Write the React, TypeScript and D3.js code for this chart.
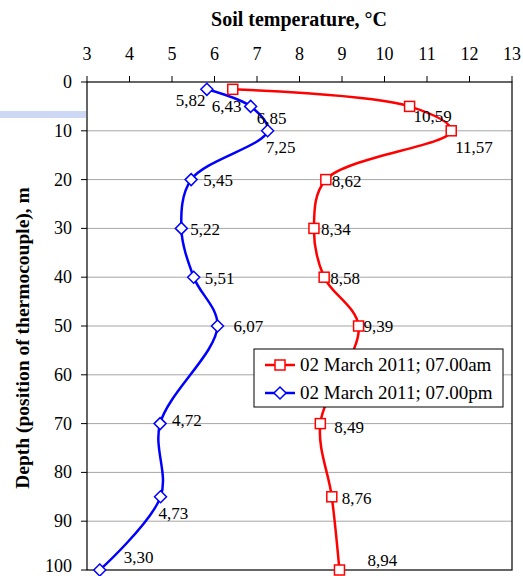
import * as d3 from "d3";

const depths = [1.5, 5, 10, 20, 30, 40, 50, 70, 85, 100];
const morning = [6.43, 10.59, 11.57, 8.62, 8.34, 8.58, 9.39, 8.49, 8.76, 8.94];
const evening = [5.82, 6.85, 7.25, 5.45, 5.22, 5.51, 6.07, 4.72, 4.73, 3.3];
const xTicks = [3, 4, 5, 6, 7, 8, 9, 10, 11, 12, 13];
const yTicks = [0, 10, 20, 30, 40, 50, 60, 70, 80, 90, 100];
const seriesNames = ["02 March 2011; 07.00am", "02 March 2011; 07.00pm"];

// label nudges (px) so the numbers sit where the original put them
const morningLabelOffsets = [[-21, 23], [4, 16], [4, 22], [6, 7], [7, 7], [6, 7], [5, 6], [14, 9], [10, 7], [28, -4]];
const eveningLabelOffsets = [[-31, 17], [6, 18], [-2, 22], [12, 6], [9, 7], [11, 7], [16, 6], [12, 2], [-2, 22], [24, -7]];

const W = 523;
const H = 576;
const M = { top: 82, right: 11, bottom: 6, left: 87 };
const FONT = "'Liberation Serif', 'Times New Roman', serif";

const fmt = (v: number) => v.toFixed(2).replace(".", ",");

export default function App() {
  const x = d3.scaleLinear().domain([3, 13]).range([M.left, W - M.right]);
  const y = d3.scaleLinear().domain([0, 100]).range([M.top, H - M.bottom]);

  const line = d3
    .line<[number, number]>()
    .x((d) => x(d[0]))
    .y((d) => y(d[1]))
    .curve(d3.curveCatmullRom.alpha(0.5));

  const redPts: [number, number][] = morning.map((v, i) => [v, depths[i]]);
  const bluePts: [number, number][] = evening.map((v, i) => [v, depths[i]]);

  const square = (cx: number, cy: number, key: string) => (
    <rect key={key} x={cx - 5} y={cy - 5} width={10} height={10} fill="white" stroke="red" strokeWidth={1.5} />
  );
  const diamond = (cx: number, cy: number, key: string) => (
    <path
      key={key}
      d={`M${cx},${cy - 6}L${cx + 6},${cy}L${cx},${cy + 6}L${cx - 6},${cy}Z`}
      fill="white"
      stroke="blue"
      strokeWidth={1.5}
    />
  );

  return (
    <svg width={W} height={H} style={{ position: "absolute", left: 0, top: 0, fontFamily: FONT }}>
      <rect width={W} height={H} fill="white" />
      <rect x={0} y={111} width={M.left - 1} height={7} fill="#ccd8f4" />

      {/* title */}
      <text x={299} y={26} textAnchor="middle" fontSize={20} fontWeight="bold">
        Soil temperature, °C
      </text>
      <text
        transform={`translate(29, ${(M.top + H - M.bottom) / 2 + 12}) rotate(-90)`}
        textAnchor="middle"
        fontSize={19.5}
        fontWeight="bold"
      >
        Depth (position of thermocouple), m
      </text>

      {/* grid */}
      {yTicks.slice(1, -1).map((t) => (
        <line key={t} x1={M.left} x2={W - M.right} y1={y(t)} y2={y(t)} stroke="#a6a6a6" strokeWidth={1} />
      ))}

      {/* frame */}
      <rect
        x={M.left}
        y={M.top}
        width={W - M.right - M.left}
        height={H - M.bottom - M.top}
        fill="none"
        stroke="black"
        strokeWidth={1.2}
      />

      {/* top axis */}
      {xTicks.map((t) => (
        <g key={t}>
          <line x1={x(t)} x2={x(t)} y1={M.top} y2={M.top - 6} stroke="black" />
          <text x={x(t)} y={60} textAnchor="middle" fontSize={18}>
            {t}
          </text>
        </g>
      ))}

      {/* left axis */}
      {yTicks.map((t) => (
        <g key={t}>
          <line x1={M.left} x2={M.left - 6} y1={y(t)} y2={y(t)} stroke="black" />
          <text x={72} y={Math.min(y(t) + 6, H - 4)} textAnchor="end" fontSize={18}>
            {t}
          </text>
        </g>
      ))}

      {/* series */}
      <path d={line(redPts) ?? ""} fill="none" stroke="red" strokeWidth={2.5} />
      <path d={line(bluePts) ?? ""} fill="none" stroke="blue" strokeWidth={2.5} />
      {redPts.map((p, i) => square(x(p[0]), y(p[1]), "r" + i))}
      {bluePts.map((p, i) => diamond(x(p[0]), y(p[1]), "b" + i))}

      {/* labels */}
      {redPts.map((p, i) => (
        <text key={"rl" + i} x={x(p[0]) + morningLabelOffsets[i][0]} y={y(p[1]) + morningLabelOffsets[i][1]} fontSize={17}>
          {fmt(p[0])}
        </text>
      ))}
      {bluePts.map((p, i) => (
        <text key={"bl" + i} x={x(p[0]) + eveningLabelOffsets[i][0]} y={y(p[1]) + eveningLabelOffsets[i][1]} fontSize={17}>
          {fmt(p[0])}
        </text>
      ))}

      {/* legend */}
      <g>
        <rect x={254} y={349} width={249} height={58} fill="white" stroke="black" strokeWidth={1} />
        <line x1={265} x2={295} y1={365} y2={365} stroke="red" strokeWidth={2.5} />
        {square(280, 365, "lr")}
        <text x={300} y={371} fontSize={19}>
          {seriesNames[0]}
        </text>
        <line x1={265} x2={295} y1={393} y2={393} stroke="blue" strokeWidth={2.5} />
        {diamond(280, 393, "lb")}
        <text x={300} y={399} fontSize={19}>
          {seriesNames[1]}
        </text>
      </g>
    </svg>
  );
}
